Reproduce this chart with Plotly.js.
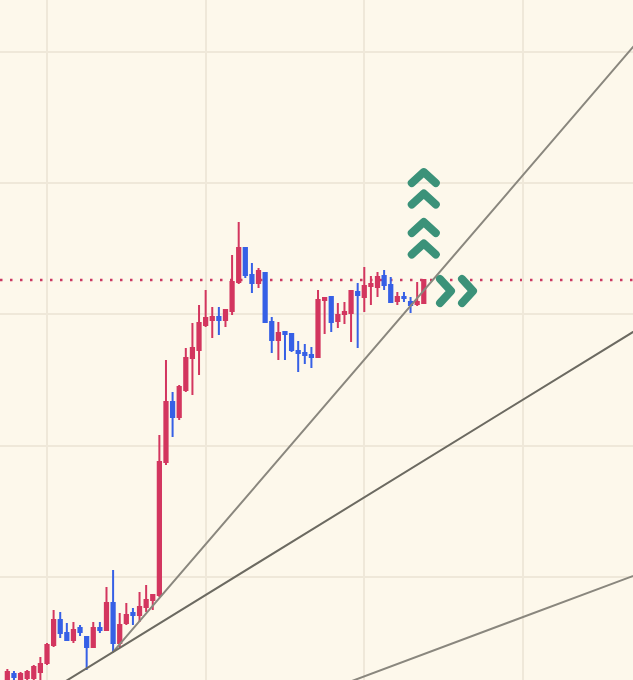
<!DOCTYPE html>
<html>
<head>
<meta charset="utf-8">
<script src="https://cdn.plot.ly/plotly-3.0.1.min.js"></script>
<style>
  html, body { margin: 0; padding: 0; background: #fdf8eb; }
  #chart { width: 633px; height: 680px; }
  .scatterlayer .js-line { stroke-linecap: round; stroke-linejoin: round; }
</style>
</head>
<body>
<div id="chart"></div>
<script>
// ---- data ----
const candleIndex = [0,1,2,3,4,5,6,7,8,9,10,11,12,13,14,15,16,17,18,19,20,21,22,23,24,25,26,27,28,29,30,31,
  32,33,34,35,36,37,38,39,40,41,42,43,44,45,46,47,48,49,50,51,52,53,54,55,56,57,58,59,60,61,62,63];
const openVals = [2.23,2.61,2.16,2.31,2.31,2.76,3.45,4.82,6.73,5.74,5.20,6.12,5.43,4.67,6.12,5.96,8.02,4.97,6.50,7.26,
  7.11,7.72,8.25,8.63,18.76,23.33,22.19,24.24,26.68,27.29,29.19,29.57,29.80,29.57,30.26,32.47,35.06,33.00,32.39,33.15,
  29.42,28.05,28.66,28.51,27.21,27.06,26.91,26.76,31.10,31.32,29.50,30.03,30.11,31.71,31.32,32.16,32.09,32.92,32.24,31.02,
  31.32,30.94,30.79,30.87];
const highVals = [2.99,2.84,2.76,2.92,3.30,3.91,4.97,7.49,7.33,6.50,6.57,6.34,5.51,6.57,6.57,9.24,10.53,7.26,8.02,7.64,
  8.86,9.39,8.71,20.81,26.53,24.09,24.62,27.44,29.34,30.72,31.86,30.56,30.56,30.41,34.52,37.04,35.13,33.91,33.53,33.23,
  29.80,29.42,28.74,28.58,27.97,27.75,27.52,31.86,31.32,31.40,30.87,30.94,31.86,32.39,33.61,32.92,33.23,33.38,32.85,31.71,
  31.71,31.32,32.47,32.70];
const lowVals = [2.00,2.00,1.93,2.00,2.08,2.16,3.30,4.67,5.35,5.13,4.97,5.51,2.92,4.59,5.74,5.89,4.29,4.67,6.34,6.34,
  6.57,7.33,7.49,8.48,18.53,20.66,21.96,24.09,23.86,25.38,29.04,28.20,28.43,29.04,29.95,32.31,32.77,31.63,32.01,29.34,
  27.06,26.53,26.53,27.14,25.61,26.22,25.92,26.68,28.51,28.66,28.96,29.27,27.90,27.44,30.18,30.72,31.32,31.86,30.87,30.72,
  30.94,30.11,30.64,30.79];
const closeVals = [2.76,2.38,2.61,2.76,3.15,3.37,4.82,6.73,5.74,5.20,5.96,5.81,4.67,6.12,5.96,8.02,4.97,6.34,7.11,7.11,
  7.72,8.25,8.63,18.76,23.33,22.19,24.47,26.68,27.44,29.34,29.73,29.80,29.57,30.33,32.47,35.06,33.00,32.39,33.30,29.42,
  28.05,28.58,28.51,27.29,27.06,26.91,26.76,31.10,31.25,29.42,29.95,30.18,31.78,31.48,32.16,32.31,32.85,32.24,30.94,31.32,
  31.25,30.72,30.94,32.62];

// trend lines (two anchor points each)
const trendX0 = [16, 0, 50];
const trendY0 = [4.29, -0.67, 1.68];
const trendX1 = [96, 96, 96];
const trendY1 = [51.15, 29.08, 10.33];

// signal markers
const upSignalX = [63, 63, 63, 63];
const upSignalY = [40.84, 39.21, 37.04, 35.40];
const rightSignalX = [67.12, 70.45];
const rightSignalY = [31.78, 31.78];

// ---- styles ----
const W = 633, H = 680;
const xRange = [-1.11, 94.65];
const yRange = [2.155, 53.945];
const bg = '#fdf8eb';
const gridColor = '#efe8d9';
const upColor = '#d3365f';
const downColor = '#3660e6';
const trendColors = ['#8a877e', '#6c6a61', '#8a877e'];
const chevronColor = '#3b9279';

const pxX = (xRange[1] - xRange[0]) / W;   // data units per pixel
const pxY = (yRange[1] - yRange[0]) / H;

const traces = [];
traces.push({
  type: 'candlestick',
  x: candleIndex, open: openVals, high: highVals, low: lowVals, close: closeVals,
  increasing: { line: { color: upColor, width: 2 }, fillcolor: upColor },
  decreasing: { line: { color: downColor, width: 2 }, fillcolor: downColor },
  hoverinfo: 'skip', showlegend: false
});

for (let k = 0; k < trendX0.length; k++) {
  traces.push({
    type: 'scatter', mode: 'lines',
    x: [trendX0[k], trendX1[k]], y: [trendY0[k], trendY1[k]],
    line: { color: trendColors[k], width: 2 }, hoverinfo: 'skip', showlegend: false
  });
}

// chevrons
const cx = [], cy = [];
const upHalfW = 12 * pxX, upH = 11 * pxY;
for (let k = 0; k < upSignalX.length; k++) {
  cx.push(upSignalX[k] - upHalfW, upSignalX[k], upSignalX[k] + upHalfW, null);
  cy.push(upSignalY[k] - upH, upSignalY[k], upSignalY[k] - upH, null);
}
const rDepth = 11 * pxX, rHalfH = 12 * pxY;
for (let k = 0; k < rightSignalX.length; k++) {
  cx.push(rightSignalX[k] - rDepth, rightSignalX[k], rightSignalX[k] - rDepth, null);
  cy.push(rightSignalY[k] + rHalfH, rightSignalY[k], rightSignalY[k] - rHalfH, null);
}
traces.push({
  type: 'scatter', mode: 'lines', x: cx, y: cy,
  line: { color: chevronColor, width: 8 }, hoverinfo: 'skip', showlegend: false
});

const lastClose = closeVals[closeVals.length - 1];

const layout = {
  width: W, height: H,
  margin: { l: 0, r: 0, t: 0, b: 0, pad: 0 },
  paper_bgcolor: bg, plot_bgcolor: bg,
  showlegend: false,
  xaxis: {
    range: xRange, tick0: 6, dtick: 24, showgrid: true, gridcolor: gridColor, gridwidth: 2,
    showticklabels: false, zeroline: false, showline: false, ticks: '',
    rangeslider: { visible: false }, fixedrange: true
  },
  yaxis: {
    range: yRange, tick0: 10, dtick: 10, showgrid: true, gridcolor: gridColor, gridwidth: 2,
    showticklabels: false, zeroline: false, showline: false, ticks: '', fixedrange: true
  },
  shapes: [{
    type: 'line', xref: 'paper', x0: 0, x1: 1, yref: 'y', y0: lastClose, y1: lastClose,
    line: { color: '#cc3a62', width: 2.5, dash: '2.5px,7.5px' }, layer: 'below'
  }]
};

Plotly.newPlot('chart', traces, layout, { displayModeBar: false, staticPlot: true });
</script>
</body>
</html>
